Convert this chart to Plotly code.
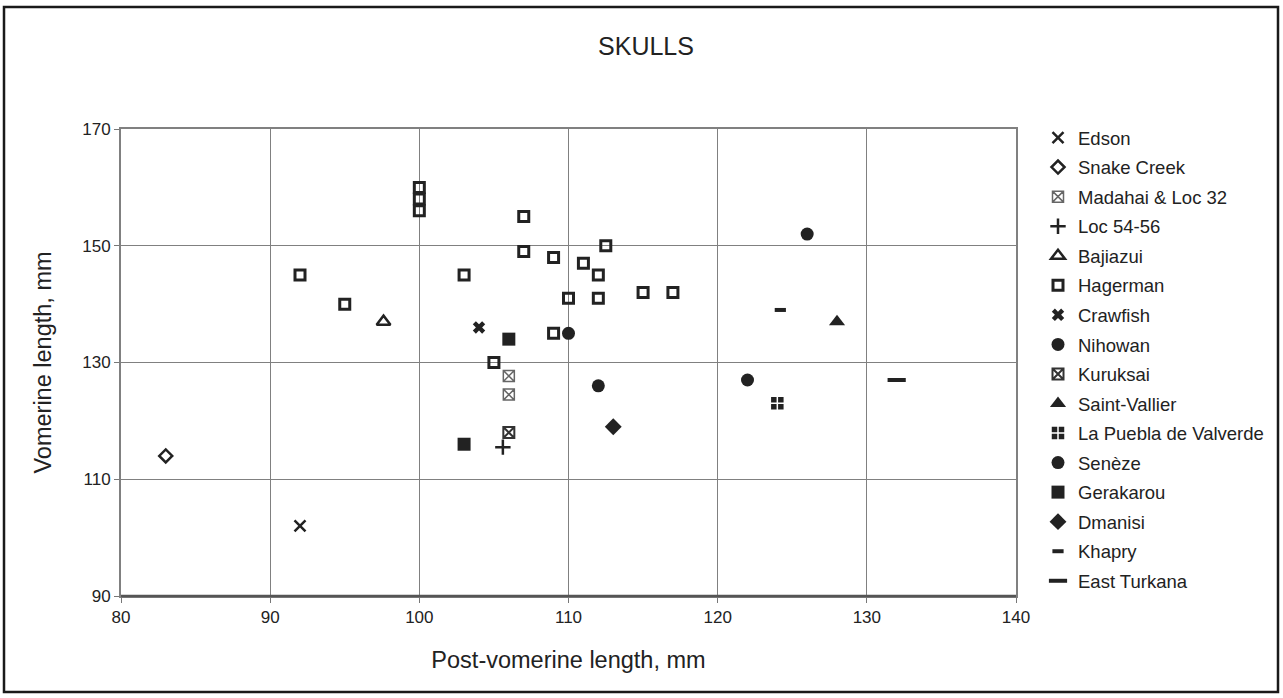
import plotly.graph_objects as go

# ---- data ----
edson_x = [92]; edson_y = [102]
snake_x = [83]; snake_y = [114]
madahai_x = [106, 106]; madahai_y = [127.7, 124.5]
loc54_x = [105.6]; loc54_y = [115.5]
bajiazui_x = [97.6]; bajiazui_y = [137]
hagerman_x = [92, 95, 100, 100, 100, 103, 105, 107, 107, 109, 109, 110, 111, 112, 112, 112.5, 115, 117]
hagerman_y = [145, 140, 160, 158, 156, 145, 130, 155, 149, 148, 135, 141, 147, 145, 141, 150, 142, 142]
crawfish_x = [104]; crawfish_y = [136]
nihowan_x = [110, 112]; nihowan_y = [135, 126]
kuruksai_x = [106]; kuruksai_y = [118]
stvallier_x = [128]; stvallier_y = [137]
puebla_x = [124]; puebla_y = [123]
seneze_x = [122, 126]; seneze_y = [127, 152]
gerakarou_x = [103, 106]; gerakarou_y = [116, 134]
dmanisi_x = [113]; dmanisi_y = [119]
khapry_x = [124.2]; khapry_y = [139]
turkana_x = [132]; turkana_y = [127]

x_ticks = [80, 90, 100, 110, 120, 130, 140]
y_ticks = [90, 110, 130, 150, 170]

INK = "#222222"
FONT = "Liberation Sans, Arial, Helvetica, sans-serif"

series = [
    ("Edson", edson_x, edson_y, dict(symbol="x-thin-open", size=11, color=INK, line=dict(width=2.5, color=INK))),
    ("Snake Creek", snake_x, snake_y, dict(symbol="diamond-open", size=10, color=INK, line=dict(width=2.5, color=INK))),
    ("Madahai & Loc 32", madahai_x, madahai_y, dict(symbol="square-x-open", size=11, color="#666666", line=dict(width=1.5, color="#666666"))),
    ("Loc 54-56", loc54_x, loc54_y, dict(symbol="cross-thin-open", size=11, color=INK, line=dict(width=2.5, color=INK))),
    ("Bajiazui", bajiazui_x, bajiazui_y, dict(symbol="triangle-up-open", size=12, color=INK, line=dict(width=2.5, color=INK))),
    ("Hagerman", hagerman_x, hagerman_y, dict(symbol="square-open", size=10, color=INK, line=dict(width=3, color=INK))),
    ("Crawfish", crawfish_x, crawfish_y, dict(symbol="x", size=11, color=INK, line=dict(width=0))),
    ("Nihowan", nihowan_x, nihowan_y, dict(symbol="circle", size=13, color=INK, line=dict(width=0))),
    ("Kuruksai", kuruksai_x, kuruksai_y, dict(symbol="square-x-open", size=11, color="#333333", line=dict(width=2, color="#333333"))),
    ("Saint-Vallier", stvallier_x, stvallier_y, dict(symbol="triangle-up", size=14, color=INK, line=dict(width=0))),
    ("La Puebla de Valverde", puebla_x, puebla_y, dict(symbol="square-cross", size=14, color=INK, line=dict(width=1.5, color="white"))),
    ("Senèze", seneze_x, seneze_y, dict(symbol="circle", size=13, color=INK, line=dict(width=0))),
    ("Gerakarou", gerakarou_x, gerakarou_y, dict(symbol="square", size=13, color=INK, line=dict(width=0))),
    ("Dmanisi", dmanisi_x, dmanisi_y, dict(symbol="diamond", size=13, color=INK, line=dict(width=0))),
    ("Khapry", khapry_x, khapry_y, dict(symbol="line-ew-open", size=8, color=INK, line=dict(width=4, color=INK))),
    ("East Turkana", turkana_x, turkana_y, dict(symbol="line-ew-open", size=13, color=INK, line=dict(width=4, color=INK))),
]

fig = go.Figure()
for i, (name, xs, ys, mk) in enumerate(series):
    fig.add_trace(go.Scatter(x=xs, y=ys, mode="markers", name=name, marker=mk,
                             legendgroup="g%d" % i))

L, R, T, B = 121, 267, 129, 102
W, H = 1283, 698
pw, ph = W - L - R, H - T - B

def px(x):
    return (x - L) / pw

def py(y):
    return (H - B - y) / ph

fig.update_layout(
    width=W, height=H,
    margin=dict(l=L, r=R, t=T, b=B, pad=0),
    paper_bgcolor="white", plot_bgcolor="white",
    font=dict(family=FONT, color=INK, size=17),
    title=dict(text="SKULLS", x=646 / W, xref="container", xanchor="center",
               y=1 - 46 / H, yref="container", yanchor="middle",
               font=dict(size=25, family=FONT, color=INK)),
    showlegend=True,
    legend=dict(x=px(1038), xanchor="left", y=py(119), yanchor="top",
                font=dict(size=18.5, family=FONT, color=INK),
                traceorder="grouped", tracegroupgap=2.5, itemwidth=30,
                maxheight=650,
                bgcolor="rgba(0,0,0,0)", borderwidth=0),
    xaxis=dict(range=[80, 140], tickvals=x_ticks, ticktext=[str(v) for v in x_ticks],
               showgrid=True, gridcolor="#808080", gridwidth=1, zeroline=False,
               showline=True, linecolor="#808080", linewidth=2, mirror=True,
               ticks="outside", ticklen=5, tickcolor="#777777",
               tickfont=dict(size=17, family=FONT, color=INK),
               title=dict(text="Post-vomerine length, mm", font=dict(size=23.5, family=FONT, color=INK), standoff=25)),
    yaxis=dict(range=[90, 170], tickvals=y_ticks, ticktext=[str(v) for v in y_ticks],
               showgrid=True, gridcolor="#808080", gridwidth=1, zeroline=False,
               showline=True, linecolor="#808080", linewidth=2, mirror=True,
               ticks="outside", ticklen=5, tickcolor="#777777",
               tickfont=dict(size=17, family=FONT, color=INK),
               title=dict(text="Vomerine length, mm", font=dict(size=23.5, family=FONT, color=INK), standoff=24)),
)

# outer frame of the chart area
fig.add_shape(type="rect", xref="paper", yref="paper",
              x0=px(4), x1=px(1278), y0=py(692), y1=py(7),
              line=dict(color="#1a1a1a", width=2.5), fillcolor="rgba(0,0,0,0)", layer="below")
# darker bottom axis line, as in the reference
fig.add_shape(type="line", xref="paper", yref="paper", x0=0, x1=1, y0=0, y1=0,
              line=dict(color="#555555", width=2.5), layer="above")

fig.write_html("out.html", config={"displayModeBar": False},
               post_script="document.documentElement.style.margin='0';document.body.style.margin='0';")
